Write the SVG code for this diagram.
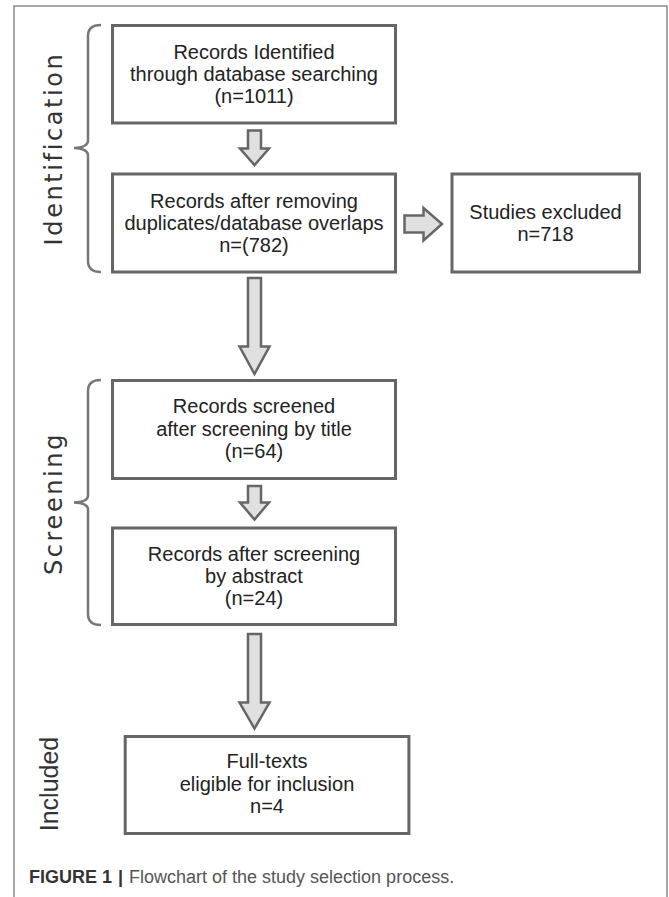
<svg xmlns="http://www.w3.org/2000/svg" width="669" height="897" viewBox="0 0 669 897">
<style>
.box{fill:#fff;stroke:#666;stroke-width:3}
.arr{fill:#e0e0e0;stroke:#666;stroke-width:2.5;stroke-linejoin:miter}
.brace{fill:none;stroke:#777;stroke-width:2.5}
.t{font-family:"Liberation Sans",Arial,sans-serif;font-size:20px;fill:#222;text-anchor:middle}
.lab{font-family:"DejaVu Sans",Verdana,sans-serif;font-size:24px;fill:#333;text-anchor:middle;letter-spacing:2.6px}
.cap{font-family:"Liberation Sans",Arial,sans-serif;font-size:18px}
</style>
<rect width="669" height="897" fill="#fff"/>
<path d="M14 897 L14 6 L667 6 L667 897" fill="none" stroke="#888" stroke-width="1.5"/>
<g id="labels">
<text class="lab" transform="translate(62,148.5) rotate(-90)">Identification</text>
<text class="lab" transform="translate(62,503.5) rotate(-90)">Screening</text>
<text class="lab" style="font-family:'Liberation Sans',Arial,sans-serif;font-size:25px;letter-spacing:0" transform="translate(57.5,784) rotate(-90)">Included</text>
</g>
<g id="braces">
<path class="brace" d="M101 25 Q88 25 88 36 L88 141 Q87.5 147.5 74 148 Q87.5 148.5 88 155 L88 261 Q88 272 101 272"/>
<path class="brace" d="M101 380 Q88 380 88 391 L88 496 Q87.5 502 74 502.5 Q87.5 503 88 509 L88 614 Q88 625 101 625"/>
</g>
<g id="connectors">
<polygon class="arr" points="248,130.5 261,130.5 261,148.5 269,148.5 254.5,165 240,148.5 248,148.5"/>
<polygon class="arr" points="248,278 261,278 261,346.5 269.5,346.5 254.5,374 239.5,346.5 248,346.5"/>
<polygon class="arr" points="248,486 261,486 261,502.5 269,502.5 254.5,519.5 240,502.5 248,502.5"/>
<polygon class="arr" points="248,634 261,634 261,702.5 269.5,702.5 254.5,728.5 239.5,702.5 248,702.5"/>
<polygon class="arr" points="404.5,215.5 423.5,215.5 423.5,208 442,224 423.5,240.5 423.5,232.5 404.5,232.5"/>
</g>
<g id="n1">
<rect class="box" x="112.5" y="25.5" width="283" height="97.5"/>
<text class="t" x="254" y="59">Records Identified</text>
<text class="t" x="254" y="81">through database searching</text>
<text class="t" x="254" y="103">(n=1011)</text>
</g>
<g id="n2">
<rect class="box" x="112.5" y="174" width="283" height="98"/>
<text class="t" x="254" y="208">Records after removing</text>
<text class="t" x="254" y="230">duplicates/database overlaps</text>
<text class="t" x="254" y="252">n=(782)</text>
</g>
<g id="n3">
<rect class="box" x="452" y="174" width="187.5" height="98"/>
<text class="t" x="545.5" y="219">Studies excluded</text>
<text class="t" x="545.5" y="241">n=718</text>
</g>
<g id="n4">
<rect class="box" x="112.5" y="380.5" width="283" height="98"/>
<text class="t" x="254" y="413">Records screened</text>
<text class="t" x="254" y="436">after screening by title</text>
<text class="t" x="254" y="458">(n=64)</text>
</g>
<g id="n5">
<rect class="box" x="112.5" y="528" width="283" height="96.5"/>
<text class="t" x="254" y="561">Records after screening</text>
<text class="t" x="254" y="583">by abstract</text>
<text class="t" x="254" y="605">(n=24)</text>
</g>
<g id="n6">
<rect class="box" x="125.2" y="736.5" width="283.7" height="97"/>
<text class="t" x="267" y="768">Full-texts</text>
<text class="t" x="267" y="791">eligible for inclusion</text>
<text class="t" x="267" y="813">n=4</text>
</g>
<g id="caption">
<text class="cap" x="29" y="883" font-weight="bold" fill="#333">FIGURE 1</text>
<text class="cap" x="118" y="883" font-weight="bold" fill="#333">|</text>
<text class="cap" x="129" y="883" fill="#555">Flowchart of the study selection process.</text>
</g>
</svg>
